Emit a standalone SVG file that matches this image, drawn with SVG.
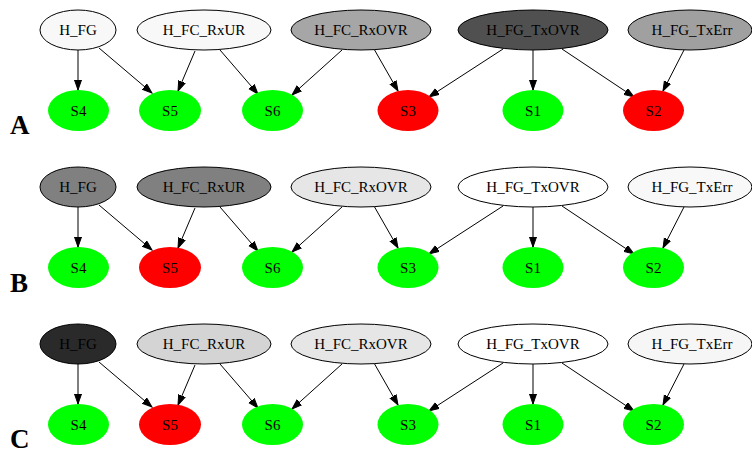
<svg xmlns="http://www.w3.org/2000/svg" width="752" height="454" viewBox="0 0 752 454">
<style>
.n ellipse{stroke:#000;stroke-width:1}
.s ellipse{stroke:none}
text{font-family:"Liberation Serif","Times New Roman",serif;font-size:15px;text-anchor:middle;fill:#000}
.lbl{font-size:27px;font-weight:bold;text-anchor:start}
.e line{stroke:#000;stroke-width:1;marker-end:url(#ah)}
.g{fill:#00ff00}.r{fill:#ff0000}
</style>
<defs>
<marker id="ah" markerUnits="userSpaceOnUse" markerWidth="11" markerHeight="9" refX="10" refY="4" orient="auto" viewBox="0 0 11 9">
<path d="M0,0.5 L10,4 L0,7.5 z" fill="#000" stroke="#000" stroke-width="1"/>
</marker>
<g id="edges" class="e" stroke="#000" stroke-width="1" marker-end="url(#ah)">
<line x1="78" y1="50" x2="78" y2="90"/>
<line x1="99" y1="48" x2="152" y2="93"/>
<line x1="195" y1="51" x2="178" y2="91"/>
<line x1="220" y1="50" x2="258" y2="94"/>
<line x1="342" y1="50" x2="292" y2="95"/>
<line x1="374" y1="49" x2="398" y2="91"/>
<line x1="503" y1="49" x2="429" y2="97"/>
<line x1="533" y1="50" x2="533" y2="90"/>
<line x1="562" y1="49" x2="634" y2="97"/>
<line x1="684" y1="50" x2="663" y2="91"/>
</g>
</defs>

<g id="panelA">
<text class="lbl" x="10" y="134">A</text>
<g id="connA"><use href="#edges"/></g>
<g id="A_H_FG" class="n"><ellipse cx="78" cy="30" rx="38" ry="20" fill="#f8f8f8"/><text x="78" y="35">H_FG</text></g>
<g id="A_H_FC_RxUR" class="n"><ellipse cx="204" cy="30" rx="67" ry="20" fill="#f8f8f8"/><text x="204" y="35">H_FC_RxUR</text></g>
<g id="A_H_FC_RxOVR" class="n"><ellipse cx="361" cy="30" rx="70" ry="20" fill="#a6a6a6"/><text x="361" y="35">H_FC_RxOVR</text></g>
<g id="A_H_FG_TxOVR" class="n"><ellipse cx="533" cy="30" rx="75" ry="20" fill="#505050"/><text x="533" y="35">H_FG_TxOVR</text></g>
<g id="A_H_FG_TxErr" class="n"><ellipse cx="690" cy="30" rx="62" ry="20" fill="#a0a0a0"/><text x="692" y="35">H_FG_TxErr</text></g>
<g id="A_S4" class="s"><ellipse class="g" cx="78.5" cy="110.5" rx="30.5" ry="20.5"/><text x="78.5" y="115.5">S4</text></g>
<g id="A_S5" class="s"><ellipse class="g" cx="170" cy="110.5" rx="31" ry="20.5"/><text x="170" y="115.5">S5</text></g>
<g id="A_S6" class="s"><ellipse class="g" cx="272.5" cy="110.5" rx="30.5" ry="20.5"/><text x="272.5" y="115.5">S6</text></g>
<g id="A_S3" class="s"><ellipse class="r" cx="408" cy="110.5" rx="30.5" ry="20.5"/><text x="408" y="115.5">S3</text></g>
<g id="A_S1" class="s"><ellipse class="g" cx="533" cy="110.5" rx="30.5" ry="20.5"/><text x="533" y="115.5">S1</text></g>
<g id="A_S2" class="s"><ellipse class="r" cx="653.5" cy="110.5" rx="30.5" ry="20.5"/><text x="653.5" y="115.5">S2</text></g>
</g>

<g id="panelB" transform="translate(0,157)">
<text class="lbl" x="10" y="135">B</text>
<g id="connB"><use href="#edges"/></g>
<g id="B_H_FG" class="n"><ellipse cx="78" cy="30" rx="38" ry="20" fill="#808080"/><text x="78" y="35">H_FG</text></g>
<g id="B_H_FC_RxUR" class="n"><ellipse cx="204" cy="30" rx="67" ry="20" fill="#808080"/><text x="204" y="35">H_FC_RxUR</text></g>
<g id="B_H_FC_RxOVR" class="n"><ellipse cx="361" cy="30" rx="70" ry="20" fill="#e6e6e6"/><text x="361" y="35">H_FC_RxOVR</text></g>
<g id="B_H_FG_TxOVR" class="n"><ellipse cx="533" cy="30" rx="75" ry="20" fill="#ffffff"/><text x="533" y="35">H_FG_TxOVR</text></g>
<g id="B_H_FG_TxErr" class="n"><ellipse cx="690" cy="30" rx="62" ry="20" fill="#f8f8f8"/><text x="692" y="35">H_FG_TxErr</text></g>
<g id="B_S4" class="s"><ellipse class="g" cx="78.5" cy="110.5" rx="30.5" ry="20.5"/><text x="78.5" y="115.5">S4</text></g>
<g id="B_S5" class="s"><ellipse class="r" cx="170" cy="110.5" rx="31" ry="20.5"/><text x="170" y="115.5">S5</text></g>
<g id="B_S6" class="s"><ellipse class="g" cx="272.5" cy="110.5" rx="30.5" ry="20.5"/><text x="272.5" y="115.5">S6</text></g>
<g id="B_S3" class="s"><ellipse class="g" cx="408" cy="110.5" rx="30.5" ry="20.5"/><text x="408" y="115.5">S3</text></g>
<g id="B_S1" class="s"><ellipse class="g" cx="533" cy="110.5" rx="30.5" ry="20.5"/><text x="533" y="115.5">S1</text></g>
<g id="B_S2" class="s"><ellipse class="g" cx="653.5" cy="110.5" rx="30.5" ry="20.5"/><text x="653.5" y="115.5">S2</text></g>
</g>

<g id="panelC" transform="translate(0,314)">
<text class="lbl" x="10" y="134">C</text>
<g id="connC"><use href="#edges"/></g>
<g id="C_H_FG" class="n"><ellipse cx="78" cy="30" rx="38" ry="20" fill="#2a2a2a"/><text x="78" y="35">H_FG</text></g>
<g id="C_H_FC_RxUR" class="n"><ellipse cx="204" cy="30" rx="67" ry="20" fill="#d4d4d4"/><text x="204" y="35">H_FC_RxUR</text></g>
<g id="C_H_FC_RxOVR" class="n"><ellipse cx="361" cy="30" rx="70" ry="20" fill="#e6e6e6"/><text x="361" y="35">H_FC_RxOVR</text></g>
<g id="C_H_FG_TxOVR" class="n"><ellipse cx="533" cy="30" rx="75" ry="20" fill="#ffffff"/><text x="533" y="35">H_FG_TxOVR</text></g>
<g id="C_H_FG_TxErr" class="n"><ellipse cx="690" cy="30" rx="62" ry="20" fill="#f6f6f6"/><text x="692" y="35">H_FG_TxErr</text></g>
<g id="C_S4" class="s"><ellipse class="g" cx="78.5" cy="110.5" rx="30.5" ry="20.5"/><text x="78.5" y="115.5">S4</text></g>
<g id="C_S5" class="s"><ellipse class="r" cx="170" cy="110.5" rx="31" ry="20.5"/><text x="170" y="115.5">S5</text></g>
<g id="C_S6" class="s"><ellipse class="g" cx="272.5" cy="110.5" rx="30.5" ry="20.5"/><text x="272.5" y="115.5">S6</text></g>
<g id="C_S3" class="s"><ellipse class="g" cx="408" cy="110.5" rx="30.5" ry="20.5"/><text x="408" y="115.5">S3</text></g>
<g id="C_S1" class="s"><ellipse class="g" cx="533" cy="110.5" rx="30.5" ry="20.5"/><text x="533" y="115.5">S1</text></g>
<g id="C_S2" class="s"><ellipse class="g" cx="653.5" cy="110.5" rx="30.5" ry="20.5"/><text x="653.5" y="115.5">S2</text></g>
</g>
</svg>
